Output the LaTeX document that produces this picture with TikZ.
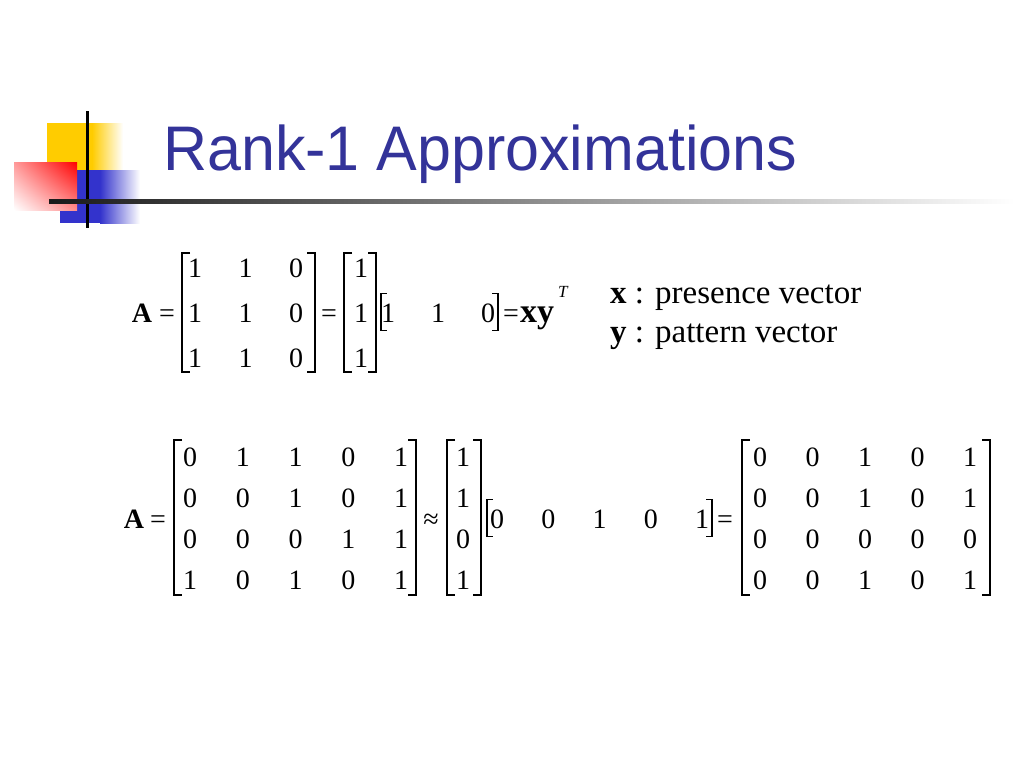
\documentclass[tikz,border=0pt]{standalone}
\usepackage{fontspec}
\setmainfont{Liberation Serif}
\newfontfamily\titlefont{Liberation Sans}
\usetikzlibrary{shadings}
\definecolor{titleblue}{RGB}{51,51,153}
\definecolor{logoyellow}{RGB}{255,204,0}
\definecolor{logoblue}{RGB}{51,51,204}
\begin{document}
\begin{tikzpicture}[
  x = 1pt, y = -1pt,
  every node/.style = {inner sep = 0pt, font = \fontsize{28}{30}\selectfont},
  entry/.style = {anchor = base},
  bracket/.style = {line width = 1.1pt},
  thickbar/.style = {line width = 2.2pt},
  label/.style = {anchor = base west, font = \fontsize{33}{36}\selectfont}
  ]
  \useasboundingbox (0,0) rectangle (1024,768);

  %logo
  \fill[logoyellow] (47,123) rectangle (92,170);
  \shade[left color = logoyellow, right color = white] (92,123) rectangle (123,170);
  \fill[logoblue] (60,170) rectangle (100,223);
  \shade[left color = logoblue, right color = white] (100,170) rectangle (140,223);
  \shade[upper right = red, upper left = red!40!white,
         lower right = red!45!white, lower left = white] (14,162) rectangle (77,210);
  \draw[line width = 3pt] (87,111) -- (87,228);
  \shade[left color = black!90, right color = white] (49,199) rectangle (1015,203);

  %title
  \node[anchor = base west, font = \titlefont\fontsize{63}{70}\selectfont,
        text = titleblue, xscale = 0.968] (title) at (163,170) {Rank-1 Approximations};

  %first equation
  \node[entry] (A1) at (142,322) {\textbf{A}};
  \node[entry] (eq1) at (167,322) {=};
  \foreach \r [count=\i from 0] in {{1,1,0},{1,1,0},{1,1,0}}
    \foreach \v [count=\j from 0] in \r
      \node[entry] (a-\i-\j) at (195+50.5*\j, 277+45*\i) {\v};
  \draw[bracket] (190,253) -- (182,253) -- (182,372) -- (190,372);
  \draw[bracket] (307,253) -- (315,253) -- (315,372) -- (307,372);
  \node[entry] (eq2) at (329,322) {=};
  \foreach \i in {0,1,2}
    \node[entry] (x-\i) at (361, 277+45*\i) {1};
  \draw[bracket] (352,253) -- (344,253) -- (344,372) -- (352,372);
  \draw[bracket] (368,253) -- (376,253) -- (376,372) -- (368,372);
  \foreach \v [count=\j from 0] in {1,1,0}
    \node[entry] (y-\j) at (388+50*\j, 322) {\v};
  \draw[thickbar] (381,293) -- (381,331);
  \draw[bracket] (380,293.5) -- (387,293.5) (380,330.5) -- (387,330.5);
  \draw[thickbar] (498,293) -- (498,331);
  \draw[bracket] (499,293.5) -- (492,293.5) (499,330.5) -- (492,330.5);
  \node[entry] (eq3) at (511,322) {=};
  \node[anchor = base west, font = \fontsize{34}{36}\selectfont] (xy) at (520,322) {\textbf{xy}};
  \node[anchor = base west, font = \fontsize{17}{18}\selectfont] (T) at (558,297) {\textit{T}};

  \node[label] (pres) at (610,303) {\textbf{x} : presence vector};
  \node[label] (patt) at (610,342) {\textbf{y} : pattern vector};

  %second equation
  \node[entry] (A2) at (134,528) {\textbf{A}};
  \node[entry] (eq4) at (158,528) {=};
  \foreach \r [count=\i from 0] in {{0,1,1,0,1},{0,0,1,0,1},{0,0,0,1,1},{1,0,1,0,1}}
    \foreach \v [count=\j from 0] in \r
      \node[entry] (b-\i-\j) at (190+52.75*\j, 466+41.3*\i) {\v};
  \draw[bracket] (182,440) -- (174,440) -- (174,595) -- (182,595);
  \draw[bracket] (408,440) -- (416,440) -- (416,595) -- (408,595);
  \node[entry] (approx) at (431,528) {≈};
  \foreach \v [count=\i from 0] in {1,1,0,1}
    \node[entry] (u-\i) at (463, 466+41.3*\i) {\v};
  \draw[bracket] (455,440) -- (447,440) -- (447,595) -- (455,595);
  \draw[bracket] (473,440) -- (481,440) -- (481,595) -- (473,595);
  \foreach \v [count=\j from 0] in {0,0,1,0,1}
    \node[entry] (v-\j) at (497+51.25*\j, 528) {\v};
  \draw[thickbar] (487,499) -- (487,537);
  \draw[bracket] (486,499.5) -- (493,499.5) (486,536.5) -- (493,536.5);
  \draw[thickbar] (712,499) -- (712,537);
  \draw[bracket] (713,499.5) -- (706,499.5) (713,536.5) -- (706,536.5);
  \node[entry] (eq5) at (725,528) {=};
  \foreach \r [count=\i from 0] in {{0,0,1,0,1},{0,0,1,0,1},{0,0,0,0,0},{0,0,1,0,1}}
    \foreach \v [count=\j from 0] in \r
      \node[entry] (c-\i-\j) at (760+52.5*\j, 466+41.3*\i) {\v};
  \draw[bracket] (750,440) -- (742,440) -- (742,595) -- (750,595);
  \draw[bracket] (982,440) -- (990,440) -- (990,595) -- (982,595);
\end{tikzpicture}
\end{document}
